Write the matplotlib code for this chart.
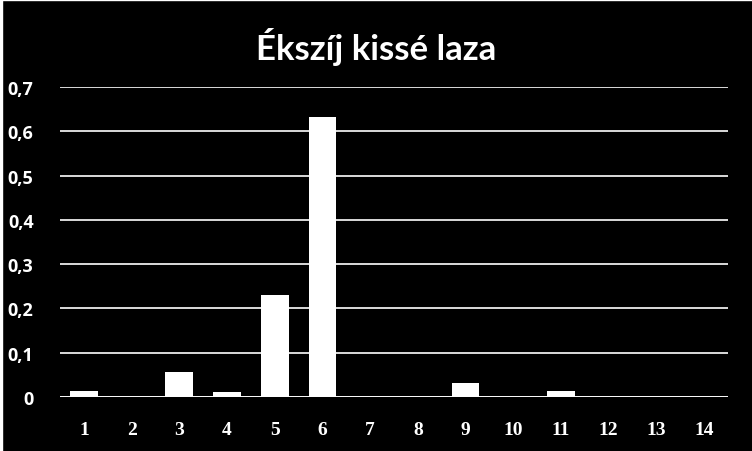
import matplotlib
matplotlib.use("Agg")
import matplotlib.pyplot as plt
from matplotlib.ticker import FuncFormatter

categories = [str(i) for i in range(1, 15)]
values = [0.014, 0.0, 0.056, 0.011, 0.231, 0.632, 0.0, 0.0, 0.032, 0.0, 0.013, 0.0, 0.0, 0.0]
yticks = [0, 0.1, 0.2, 0.3, 0.4, 0.5, 0.6, 0.7]

fig = plt.figure(figsize=(7.52, 4.52), dpi=100, facecolor="black")
ax = fig.add_axes([60 / 752, 1 - 398 / 452, 668 / 752, 310 / 452])
ax.set_facecolor("black")

x = range(len(categories))
ax.bar(x, values, width=0.58, color="white", zorder=3)

ax.set_xlim(-0.5, len(categories) - 0.5)
ax.set_ylim(0, 0.7)
ax.set_yticks(yticks)
ax.yaxis.set_major_formatter(FuncFormatter(lambda v, p: "0" if v == 0 else f"{v:.1f}".replace(".", ",")))
ax.grid(axis="y", color="white", linewidth=1.2, zorder=1)
ax.set_axisbelow(True)
for s in ax.spines.values():
    s.set_visible(False)
ax.axhline(0, color="white", linewidth=1.2, zorder=2)

ax.set_xticks(list(x))
ax.set_xticklabels(categories, family="Liberation Serif", fontweight="bold", fontsize=14, color="white")
for lab in ax.get_yticklabels():
    lab.set_family("Open Sans")
    lab.set_fontweight("bold")
    lab.set_fontsize(13)
    lab.set_color("white")
ax.tick_params(axis="x", length=0, pad=17)
ax.tick_params(axis="y", length=0, pad=19)

fig.text(0.5, 1 - 47 / 452, "Ékszíj kissé laza", ha="center", va="center",
         family="Lato", fontweight="bold", fontsize=25, color="white")

# thin light edge seen on the left and top of the original
fig.patches.append(plt.Rectangle((0, 0), 2 / 752, 1, transform=fig.transFigure, color="white"))
fig.patches.append(plt.Rectangle((0, 1 - 1 / 452), 1, 1 / 452, transform=fig.transFigure, color="white"))

fig.savefig("out.png", dpi=100, facecolor="black")
